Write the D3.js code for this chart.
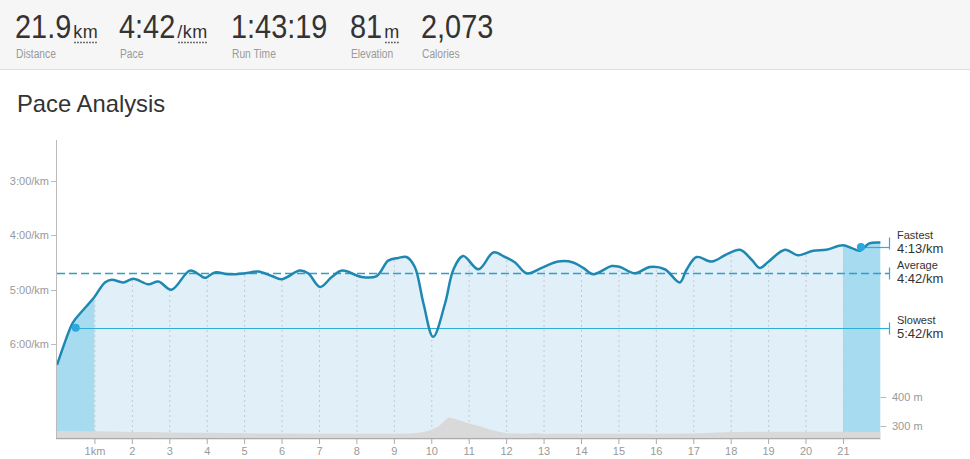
<!DOCTYPE html>
<html>
<head>
<meta charset="utf-8">
<script src="https://cdn.jsdelivr.net/npm/d3@7"></script>
<style>
  body { margin: 0; background: #fff; }
  svg { font-family: Arial, "Liberation Sans", sans-serif; display: block; }
  .tick-label { font-size: 11px; fill: #999; }
</style>
</head>
<body>
<div id="chart"></div>
<script>
// header numbers
var statValues = ["21.9", "4:42", "1:43:19", "81", "2,073"];
var statUnits = ["km", "/km", "", "m", ""];
var statLabels = ["Distance", "Pace", "Run Time", "Elevation", "Calories"];

// pace along the run: km, seconds per km
var paceKm = [0, 0.39, 0.48, 1.0, 1.28, 1.46, 1.77, 2.04, 2.44, 2.71, 3.06, 3.55, 3.82, 3.95, 4.22, 4.58,
  5.02, 5.38, 5.74, 6.0, 6.49, 6.71, 7.03, 7.34, 7.62, 8.14, 8.54, 8.85, 9.12, 9.34, 9.56, 9.79,
  10.05, 10.37, 10.59, 10.85, 11.26, 11.66, 11.97, 12.24, 12.55, 12.95, 13.39, 13.79, 14.06, 14.33,
  14.82, 15.04, 15.44, 15.84, 16.24, 16.64, 16.82, 17.09, 17.49, 17.89, 18.25, 18.56, 18.78,
  19.0, 19.45, 19.8, 20.2, 20.55, 21.0, 21.25, 21.45, 21.7, 22.0];
var paceSec = [383, 339, 333, 308, 292, 289, 292, 288, 294, 291, 300, 279, 284, 287, 281, 283,
  282, 280, 285, 288.5, 279, 282, 297, 286, 279, 286, 285, 268, 265, 264, 275, 315,
  352, 315, 278, 263, 277.5, 259, 264, 270, 282, 276, 269, 270, 276, 283,
  274, 275, 282, 275, 277.5, 292, 278, 264, 269, 261, 256, 267, 276,
  269.5, 256, 262, 257, 256, 251, 254.5, 257, 249, 248];

// elevation profile: km, metres
var elevKm = [0, 0.5, 1, 1.5, 2, 2.5, 3, 3.5, 4, 4.5, 5, 5.5, 6, 7, 8, 9, 9.5, 9.8, 10, 10.2, 10.45,
  10.6, 11, 11.3, 11.6, 12, 12.5, 12.8, 13, 14, 15, 16, 17, 17.5, 18, 19, 20, 21, 22];
var elevM = [284, 284, 283, 282, 280, 280, 279, 278, 278, 277, 276, 275, 275, 274, 274, 274, 275, 280,
  287, 300, 330, 327, 310, 300, 287, 276, 274, 277, 274, 274, 274, 274, 275, 278, 280, 281, 281, 281, 280];

// reference markers
var markerLabels = ["Fastest", "Average", "Slowest"];
var markerTexts = ["4:13/km", "4:42/km", "5:42/km"];
var markerPace = [253, 282, 342];
var markerKm = [21.48, null, 0.5];

var paceTicks = [180, 240, 300, 360];
var elevTicks = [300, 400];
var kmTicks = d3.range(1, 22);

(function() {
var width = 970, height = 459;
var plotLeft = 57, plotRight = 880.4, plotTop = 140, plotBottom = 437.5;

var svg = d3.select("#chart").append("svg")
  .attr("width", width)
  .attr("height", height);

/* Header */
svg.append("rect").attr("x", 0).attr("y", 0).attr("width", width).attr("height", 69)
  .attr("fill", "#f6f6f6");
svg.append("line").attr("x1", 0).attr("x2", width).attr("y1", 69.5).attr("y2", 69.5)
  .attr("stroke", "#dcdcdc");

var statX = [15, 119, 231, 350, 421];
statValues.forEach(function(v, i) {
  var t = svg.append("text")
    .attr("transform", "translate(" + statX[i] + ",38) scale(0.85,1)")
    .attr("font-size", 34).attr("fill", "#333")
    .text(v);
  if (statUnits[i]) {
    var ux = statX[i] + t.node().getComputedTextLength() * 0.85 + 2;
    var u = svg.append("text")
      .attr("x", ux).attr("y", 38)
      .attr("font-size", 18).attr("fill", "#333")
      .attr("letter-spacing", 0.5)
      .text(statUnits[i]);
    var uw = u.node().getComputedTextLength();
    svg.append("line")
      .attr("x1", ux + 1).attr("x2", ux + uw)
      .attr("y1", 42.5).attr("y2", 42.5)
      .attr("stroke", "#444").attr("stroke-width", 1.5)
      .attr("stroke-dasharray", "1.5,1.5");
  }
  svg.append("text")
    .attr("transform", "translate(" + (statX[i] + 1) + ",57.5) scale(0.82,1)")
    .attr("font-size", 12.5).attr("fill", "#999")
    .text(statLabels[i]);
});

svg.append("text")
  .attr("x", 17).attr("y", 112)
  .attr("font-size", 23.8).attr("fill", "#333")
  .text("Pace Analysis");

/* Scales */
var xScale = d3.scaleLinear().domain([0, 22]).range([plotLeft, plotRight]);
var yScale = d3.scaleLinear().domain([135, 463]).range([plotTop, plotBottom]);
var eScale = d3.scaleLinear().domain([261.4, 1287]).range([plotBottom, plotTop]);

var pace = paceKm.map(function(k, i) { return { km: k, sec: paceSec[i] }; });
var elev = elevKm.map(function(k, i) { return { km: k, m: elevM[i] }; });

var curve = d3.curveCatmullRom.alpha(0.5);
var line = d3.line().x(d => xScale(d.km)).y(d => yScale(d.sec)).curve(curve);
var area = d3.area().x(d => xScale(d.km)).y0(plotBottom).y1(d => yScale(d.sec)).curve(curve);

var defs = svg.append("defs");
defs.append("clipPath").attr("id", "areaClip")
  .append("path").attr("d", area(pace));
var hl = defs.append("clipPath").attr("id", "hlClip");
hl.append("rect").attr("x", xScale(0)).attr("y", plotTop).attr("width", xScale(1) - xScale(0)).attr("height", plotBottom - plotTop);
hl.append("rect").attr("x", xScale(21)).attr("y", plotTop).attr("width", xScale(22) - xScale(21)).attr("height", plotBottom - plotTop);

/* Areas */
svg.append("path").attr("d", area(pace)).attr("fill", "#e0eff8");
svg.append("path").attr("d", area(pace)).attr("fill", "#a7dbf0")
  .attr("clip-path", "url(#hlClip)");

/* km grid lines inside the area */
svg.append("g").attr("clip-path", "url(#areaClip)")
  .selectAll("line").data(kmTicks).enter()
  .append("line")
  .attr("x1", d => xScale(d) + 0.5).attr("x2", d => xScale(d) + 0.5)
  .attr("y1", plotTop).attr("y2", plotBottom)
  .attr("stroke", "#c6c9cc").attr("stroke-dasharray", "2,3");

/* Elevation */
var elevArea = d3.area().x(d => xScale(d.km)).y0(plotBottom).y1(d => eScale(d.m));
svg.append("path").attr("d", elevArea(elev)).attr("fill", "#d9d9d9");

/* Reference lines */
var markerShift = [-4, 0, 0];
var bx = 889;
markerLabels.forEach(function(lab, i) {
  var y = Math.round(yScale(markerPace[i])) + 0.5;
  var x0 = markerKm[i] == null ? plotLeft : xScale(markerKm[i]);
  svg.append("line")
    .attr("x1", x0).attr("x2", bx).attr("y1", y).attr("y2", y)
    .attr("stroke", i == 1 ? "#2a9fd0" : "#2fadd9")
    .attr("stroke-width", i == 1 ? 1.4 : 1.2)
    .attr("stroke-dasharray", i == 1 ? "8,4" : null);
  var c = y + markerShift[i];
  svg.append("line")
    .attr("x1", bx + 0.5).attr("x2", bx + 0.5).attr("y1", c - 6).attr("y2", c + 6)
    .attr("stroke", "#2fadd9").attr("stroke-width", 1.2);
  svg.append("text")
    .attr("x", 897).attr("y", c - 4.5)
    .attr("font-size", 11).attr("fill", "#333")
    .text(lab);
  svg.append("text")
    .attr("x", 897).attr("y", c + 9.5)
    .attr("font-size", 13).attr("fill", "#333")
    .text(markerTexts[i]);
});

/* Pace line */
svg.append("path").attr("d", line(pace))
  .attr("fill", "none").attr("stroke", "#1f88b1").attr("stroke-width", 2.5);

/* Fastest / slowest dots */
markerKm.forEach(function(k, i) {
  if (k == null) return;
  svg.append("circle")
    .attr("cx", xScale(k)).attr("cy", yScale(markerPace[i]))
    .attr("r", 4).attr("fill", "#2aa9e0");
});

/* Axes */
svg.append("line")
  .attr("x1", plotLeft - 0.5).attr("x2", plotLeft - 0.5).attr("y1", plotTop).attr("y2", plotBottom + 1)
  .attr("stroke", "#bbb");
svg.append("line")
  .attr("x1", plotLeft - 1).attr("x2", plotRight).attr("y1", 438.5).attr("y2", 438.5)
  .attr("stroke", "#aaa").attr("stroke-width", 1.5);

var fmtPace = d => Math.floor(d / 60) + ":" + d3.format("02")(d % 60) + "/km";
var yTicks = svg.append("g");
yTicks.selectAll("line").data(paceTicks).enter().append("line")
  .attr("x1", plotLeft - 6).attr("x2", plotLeft - 1)
  .attr("y1", d => Math.round(yScale(d)) + 0.5).attr("y2", d => Math.round(yScale(d)) + 0.5)
  .attr("stroke", "#bbb");
yTicks.selectAll("text").data(paceTicks).enter().append("text")
  .attr("class", "tick-label")
  .attr("x", plotLeft - 8).attr("y", d => yScale(d) + 4)
  .attr("text-anchor", "end")
  .text(fmtPace);

var eTicks = svg.append("g");
eTicks.selectAll("line").data(elevTicks).enter().append("line")
  .attr("x1", plotRight).attr("x2", plotRight + 6)
  .attr("y1", d => Math.round(eScale(d)) + 0.5).attr("y2", d => Math.round(eScale(d)) + 0.5)
  .attr("stroke", "#bbb");
eTicks.selectAll("text").data(elevTicks).enter().append("text")
  .attr("class", "tick-label")
  .attr("x", 892).attr("y", d => eScale(d) + 4)
  .text(d => d + " m");

var xTicks = svg.append("g");
xTicks.selectAll("line").data(kmTicks).enter().append("line")
  .attr("x1", d => xScale(d) + 0.5).attr("x2", d => xScale(d) + 0.5)
  .attr("y1", 439).attr("y2", 444)
  .attr("stroke", "#aaa");
xTicks.selectAll("text").data(kmTicks).enter().append("text")
  .attr("class", "tick-label")
  .attr("x", d => xScale(d) + 0.5).attr("y", 455)
  .attr("text-anchor", "middle")
  .text(d => d == 1 ? "1km" : d);
})();
</script>
</body>
</html>
